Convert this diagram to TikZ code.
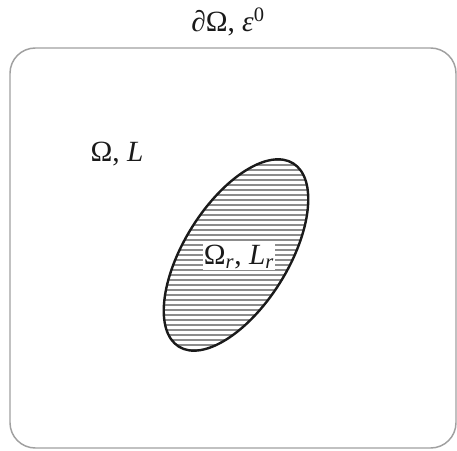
\documentclass[tikz,border=0pt]{standalone}
\usepackage{fontspec}
\setmainfont{Liberation Serif}
\usetikzlibrary{positioning, calc}
\definecolor{Dark}{HTML}{1A1A1A}
\definecolor{Frame}{HTML}{A0A0A0}
\definecolor{Hatch}{HTML}{8C8C8C}
\tikzset{
    domainbox/.style={draw=Frame, line width=1.1pt, rounded corners=19pt},
    inclusion/.style={draw=Dark, line width=1.8pt},
    hatchline/.style={Hatch, line width=1.6pt},
    mathlabel/.style={font=\fontsize{22}{26}\selectfont, text=Dark},
}
\newcommand{\sbr}{\textsubscript{\textit{r}}}

\begin{document}
\begin{tikzpicture}[x=0.75pt, y=0.75pt]
    \useasboundingbox (0,0) rectangle (457,450);

    % Dominio esterno
    \draw[domainbox] (10,2) rectangle (456,402);

    % Inclusione (ellisse tratteggiata)
    \coordinate (incl) at (236,195);
    \begin{scope}
        \clip[rotate around={58:(incl)}] (incl) ellipse [x radius=108, y radius=52];
        \foreach \yy in {90,95,...,310}
            \draw[hatchline] (140,\yy) -- (330,\yy);
    \end{scope}
    \draw[inclusion, rotate around={58:(incl)}] (incl) ellipse [x radius=108, y radius=52];

    % Etichette
    \node[mathlabel] (bnd) at (228,428) {∂Ω, \textit{ε}\textsuperscript{0}};
    \node[mathlabel] (omega) at (117,296) {Ω, \textit{L}};
    \node[mathlabel, fill=white, inner sep=0.5pt] (omegar) at (239,193) {Ω\sbr, \textit{L}\sbr};
\end{tikzpicture}
\end{document}
